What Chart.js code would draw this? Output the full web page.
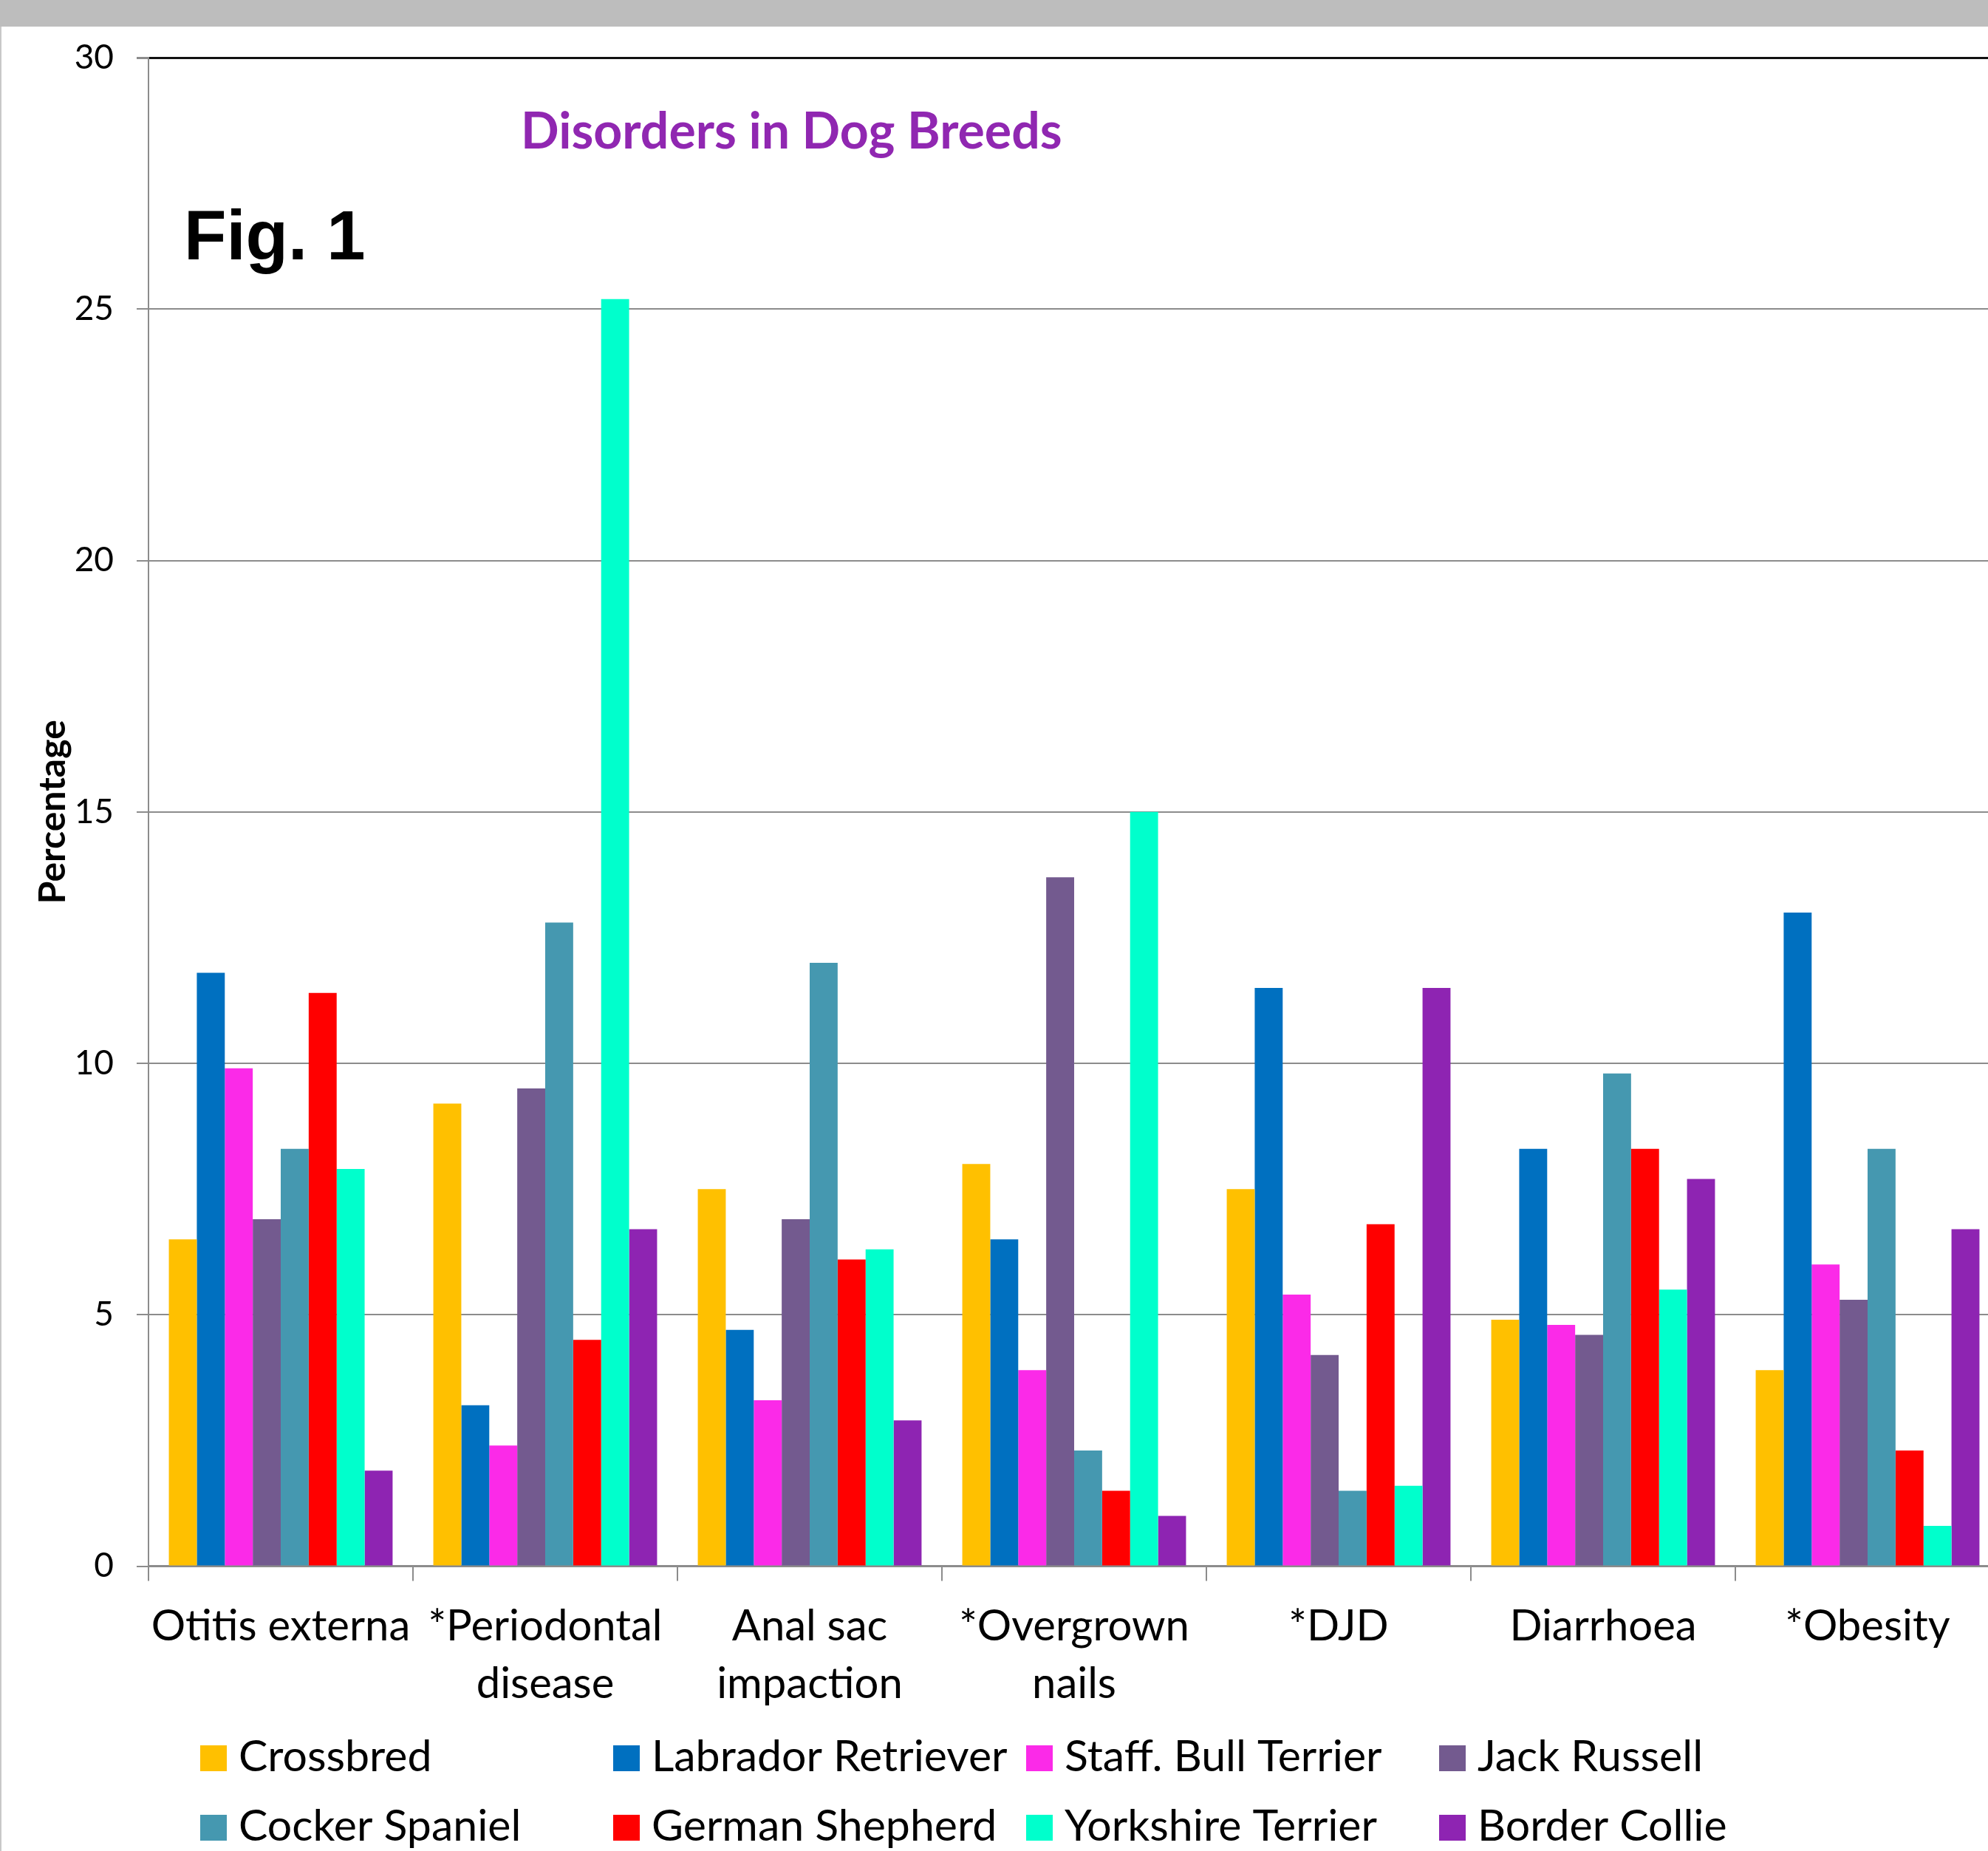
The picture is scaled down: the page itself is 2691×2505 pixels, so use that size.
<!DOCTYPE html>
<html>
<head>
<meta charset="utf-8">
<title>Disorders in Dog Breeds</title>
<script src="https://cdn.jsdelivr.net/npm/chart.js@4.4.1/dist/chart.umd.min.js"></script>
<style>
  html, body { margin: 0; padding: 0; background: #fff; overflow: hidden; width: 2691px; height: 2505px; }
  #band { position: absolute; left: 0; top: 0; width: 2691px; height: 36px; background: #bdbdbd; z-index: 2; }
  #edge { position: absolute; left: 0; top: 36px; width: 2px; height: 2469px; background: #c8c8c8; z-index: 2; }
  #wrap { position: absolute; left: 0; top: 0; width: 2720px; height: 2505px; }
  canvas { display: block; }
</style>
</head>
<body>
<div id="band"></div>
<div id="edge"></div>
<div id="wrap"><canvas id="chart" width="2720" height="2505" style="width:2720px;height:2505px"></canvas></div>
<script>
// Disorders (x categories); multi-line entries wrap under the axis
const categories = [
  ['Otitis externa'],
  ['*Periodontal', 'disease'],
  ['Anal sac', 'impaction'],
  ['*Overgrown', 'nails'],
  ['*DJD'],
  ['Diarrhoea'],
  ['*Obesity']
];

const breeds = [
  'Crossbred', 'Labrador Retriever', 'Staff. Bull Terrier', 'Jack Russell',
  'Cocker Spaniel', 'German Shepherd', 'Yorkshire Terrier', 'Border Collie'
];

// Percentage of each breed affected, one array per breed (in category order)
const crossbred         = [6.5, 9.2, 7.5, 8.0, 7.5, 4.9, 3.9];
const labradorRetriever = [11.8, 3.2, 4.7, 6.5, 11.5, 8.3, 13.0];
const staffBullTerrier  = [9.9, 2.4, 3.3, 3.9, 5.4, 4.8, 6.0];
const jackRussell       = [6.9, 9.5, 6.9, 13.7, 4.2, 4.6, 5.3];
const cockerSpaniel     = [8.3, 12.8, 12.0, 2.3, 1.5, 9.8, 8.3];
const germanShepherd    = [11.4, 4.5, 6.1, 1.5, 6.8, 8.3, 2.3];
const yorkshireTerrier  = [7.9, 25.2, 6.3, 15.0, 1.6, 5.5, 0.8];
const borderCollie      = [1.9, 6.7, 2.9, 1.0, 11.5, 7.7, 6.7];

const seriesValues = [
  crossbred, labradorRetriever, staffBullTerrier, jackRussell,
  cockerSpaniel, germanShepherd, yorkshireTerrier, borderCollie
];

const breedColors = [
  '#ffc000', '#0070c0', '#fb2ae8', '#735a8f',
  '#4598b0', '#ff0000', '#00ffcc', '#8e24b2'
];

const yTicks = [0, 5, 10, 15, 20, 25, 30];

const chartTitle = 'Disorders in Dog Breeds';
const figureLabel = 'Fig. 1';
const yAxisTitle = 'Percentage';

const LABEL_FONT = 'Lato';
const GRID_GREY = '#8c8c8c';

// Heading, figure tag and the two-row legend are painted straight onto the canvas
const overlayText = {
  id: 'overlayText',
  afterDraw(chart) {
    const ctx = chart.ctx;
    ctx.save();
    ctx.textAlign = 'left';
    ctx.textBaseline = 'alphabetic';

    ctx.fillStyle = '#9027b1';
    ctx.font = 'bold 68px ' + LABEL_FONT;
    ctx.fillText(chartTitle, 705, 201);

    ctx.fillStyle = '#000';
    ctx.font = 'bold 94px "Liberation Sans"';
    ctx.fillText(figureLabel, 249, 351);

    // legend: four fixed columns, two rows
    ctx.font = '59px ' + LABEL_FONT;
    chart.data.datasets.forEach((ds, i) => {
      const col = i % 4;
      const row = Math.floor(i / 4);
      const x = 271 + col * 559;
      const base = 2397 + row * 94;
      ctx.fillStyle = ds.backgroundColor;
      ctx.fillRect(x, base - 35, 36, 35);
      ctx.fillStyle = '#000';
      ctx.fillText(ds.label, x + 52, base);
    });
    ctx.restore();
  }
};

const datasets = breeds.map((name, i) => ({
  label: name,
  data: seriesValues[i],
  backgroundColor: breedColors[i],
  borderWidth: 0,
  categoryPercentage: 0.846,
  barPercentage: 1.0
}));

new Chart(document.getElementById('chart'), {
  type: 'bar',
  data: { labels: categories, datasets },
  plugins: [overlayText],
  options: {
    responsive: false,
    animation: false,
    devicePixelRatio: 1,
    layout: { padding: { left: 0, top: 78, right: 13, bottom: 164 } },
    plugins: {
      legend: { display: false },
      title: { display: false },
      tooltip: { enabled: false }
    },
    scales: {
      x: {
        grid: {
          display: true,
          drawOnChartArea: false,
          offset: true,
          tickLength: 20,
          color: GRID_GREY,
          lineWidth: 2
        },
        border: { display: true, color: GRID_GREY, width: 3 },
        ticks: {
          autoSkip: false,
          maxRotation: 0,
          minRotation: 0,
          padding: 23,
          color: '#000',
          font: { family: LABEL_FONT, size: 58, lineHeight: 1.34 }
        }
      },
      y: {
        min: yTicks[0],
        max: yTicks[yTicks.length - 1],
        afterBuildTicks(scale) {
          scale.ticks = yTicks.map(v => ({ value: v }));
        },
        afterFit(scale) {
          scale.width = 201;
        },
        grid: {
          color: ctx => (ctx.tick && ctx.tick.value === 30 ? '#111' : GRID_GREY),
          lineWidth: ctx => (ctx.tick && ctx.tick.value === 30 ? 3 : 2),
          tickColor: GRID_GREY,
          tickLength: 16
        },
        border: { display: true, color: GRID_GREY, width: 2 },
        ticks: {
          padding: 31,
          color: '#000',
          font: { family: LABEL_FONT, size: 46 }
        },
        title: {
          display: true,
          text: yAxisTitle,
          color: '#000',
          padding: { top: 42, bottom: 0 },
          font: { family: LABEL_FONT, size: 50, weight: 'bold' }
        }
      }
    }
  }
});
</script>
</body>
</html>
